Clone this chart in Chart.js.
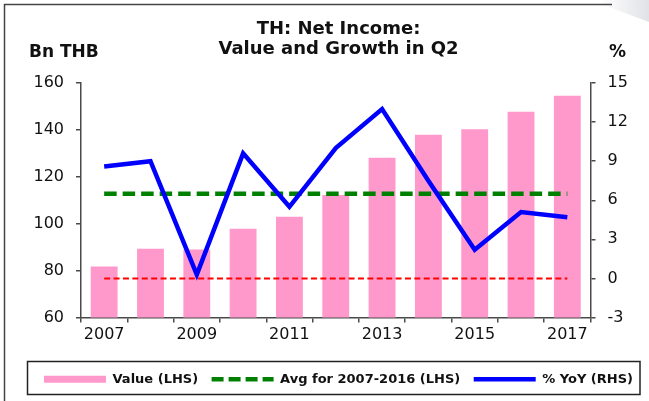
<!DOCTYPE html>
<html lang="en">
<head>
  <meta charset="UTF-8">
  <title>TH: Net Income</title>
  <script src="https://cdn.jsdelivr.net/npm/chart.js"></script>
  <style>
    body {
      margin: 0;
      background-color: #fff;
    }
    #chart-box {
      width: 649px;
      height: 401px;
    }
  </style>
</head>
<body>
  <div id="chart-box">
    <canvas id="net-income" width="649" height="401"></canvas>
  </div>

  <script>
    // Data
    const years = ["2007", "2008", "2009", "2010", "2011", "2012", "2013", "2014", "2015", "2016", "2017"];
    const netIncome = [81.7, 89.3, 89.0, 97.9, 103.0, 112.2, 128.1, 137.9, 140.3, 147.7, 154.6];
    const avg0716 = [112.8, 112.8, 112.8, 112.8, 112.8, 112.8, 112.8, 112.8, 112.8, 112.8, 112.8];
    const yoyGrowth = [8.6, 9.0, 0.3, 9.6, 5.5, 10.0, 13.0, 7.5, 2.2, 5.1, 4.7];
    const zeroLine = [0, 0, 0, 0, 0, 0, 0, 0, 0, 0, 0];
    const titleLines = ["TH: Net Income:", "Value and Growth in Q2"];
    const leftUnit = "Bn THB";
    const rightUnit = "%";

    const FONT = "'DejaVu Sans', 'Liberation Sans', Arial, sans-serif";
    const AXIS_COLOR = "#4a4a4a";

    // frame, unit labels and the box round the legend
    const decorations = {
      id: "decorations",
      beforeDraw(chart) {
        const ctx = chart.ctx;
        ctx.save();
        ctx.fillStyle = "#fff";
        ctx.fillRect(0, 0, chart.width, chart.height);
        // light shading in the top right corner
        const grad = ctx.createLinearGradient(600, 0, 649, 0);
        grad.addColorStop(0, "rgba(225,226,232,0)");
        grad.addColorStop(1, "rgba(225,226,232,1)");
        ctx.fillStyle = grad;
        ctx.beginPath();
        ctx.moveTo(590, 0);
        ctx.lineTo(649, 0);
        ctx.lineTo(649, 22);
        ctx.closePath();
        ctx.fill();
        // outer frame (top and left edges)
        ctx.strokeStyle = "#444";
        ctx.lineWidth = 1.5;
        ctx.beginPath();
        ctx.moveTo(4.5, 401);
        ctx.lineTo(4.5, 4.5);
        ctx.lineTo(612, 4.5);
        ctx.stroke();
        ctx.restore();
      },
      afterDraw(chart) {
        const ctx = chart.ctx;
        ctx.save();
        ctx.fillStyle = "#111";
        ctx.font = "bold 17px " + FONT;
        ctx.textBaseline = "middle";
        ctx.textAlign = "left";
        ctx.fillText(leftUnit, 29, 53);
        ctx.fillText(rightUnit, 609, 53);
        // legend border
        ctx.strokeStyle = "#222";
        ctx.lineWidth = 1.5;
        ctx.strokeRect(27.5, 361.5, 612.5, 33);
        ctx.restore();
      }
    };

    let chart;

    function initChart() {
      const ctx = document.getElementById("net-income").getContext("2d");

      chart = new Chart(ctx, {
        type: "bar",
        data: {
          labels: years,
          datasets: [
            {
              label: "Value (LHS)",
              data: netIncome,
              backgroundColor: "#ff99cc",
              borderWidth: 0,
              barPercentage: 0.58,
              categoryPercentage: 1,
              yAxisID: "y",
              order: 3
            },
            {
              type: "line",
              label: "Avg for 2007-2016 (LHS)",
              data: avg0716,
              borderColor: "#008000",
              borderWidth: 4.5,
              borderDash: [12.5, 6],
              pointRadius: 0,
              fill: false,
              yAxisID: "y",
              order: 1
            },
            {
              type: "line",
              label: "% YoY (RHS)",
              data: yoyGrowth,
              borderColor: "#0000ff",
              borderWidth: 4.5,
              pointRadius: 0,
              tension: 0,
              fill: false,
              yAxisID: "y1",
              order: 0
            },
            {
              type: "line",
              label: "zero",
              data: zeroLine,
              borderColor: "#ff0000",
              borderWidth: 2,
              borderDash: [6, 3.4],
              pointRadius: 0,
              fill: false,
              yAxisID: "y1",
              order: 2
            }
          ]
        },
        options: {
          responsive: false,
          animation: false,
          events: [],
          layout: { padding: { left: 28, right: 0, top: 0, bottom: 5.3 } },
          plugins: {
            title: {
              display: true,
              text: titleLines,
              color: "#111",
              font: { family: FONT, size: 18, weight: "bold", lineHeight: 1.12 },
              padding: { top: 18.9, bottom: 23.8 }
            },
            legend: {
              position: "bottom",
              labels: {
                usePointStyle: true,
                pointStyleWidth: 62,
                padding: 13.5,
                color: "#111",
                font: { family: FONT, size: 13, weight: "bold" },
                generateLabels: (c) => c.data.datasets.slice(0, 3).map((ds, i) => ({
                  text: ds.label,
                  datasetIndex: i,
                  pointStyle: "line",
                  fillStyle: i === 0 ? ds.backgroundColor : ds.borderColor,
                  strokeStyle: i === 0 ? ds.backgroundColor : ds.borderColor,
                  lineWidth: i === 0 ? 7 : 4.5,
                  lineDash: i === 1 ? [12, 5] : [],
                  fontColor: "#111"
                }))
              }
            },
            tooltip: { enabled: false }
          },
          scales: {
            x: {
              grid: {
                offset: true,
                drawOnChartArea: false,
                drawTicks: true,
                tickLength: 5,
                color: AXIS_COLOR,
                lineWidth: 1.5
              },
              border: { color: AXIS_COLOR, width: 1.5 },
              ticks: {
                autoSkip: false,
                maxRotation: 0,
                padding: 3,
                color: "#111",
                font: { family: FONT, size: 16 },
                callback: (v, i) => (i % 2 === 0 ? years[i] : "")
              },
              afterFit: (s) => { s.height = 41.7; }
            },
            y: {
              position: "left",
              min: 60,
              max: 160,
              grid: { drawOnChartArea: false, tickLength: 5, color: AXIS_COLOR, lineWidth: 1.5 },
              border: { color: AXIS_COLOR, width: 1.5 },
              ticks: { stepSize: 20, padding: 12, color: "#111", font: { family: FONT, size: 16 } },
              afterFit: (s) => { s.width = 53; }
            },
            y1: {
              position: "right",
              min: -3,
              max: 15,
              grid: { drawOnChartArea: false, tickLength: 5, color: AXIS_COLOR, lineWidth: 1.5 },
              border: { color: AXIS_COLOR, width: 1.5 },
              ticks: { stepSize: 3, padding: 12, color: "#111", font: { family: FONT, size: 16 } },
              afterFit: (s) => { s.width = 58.5; }
            }
          }
        },
        plugins: [decorations]
      });
    }

    window.onload = () => {
      initChart();
    };
  </script>
</body>
</html>
